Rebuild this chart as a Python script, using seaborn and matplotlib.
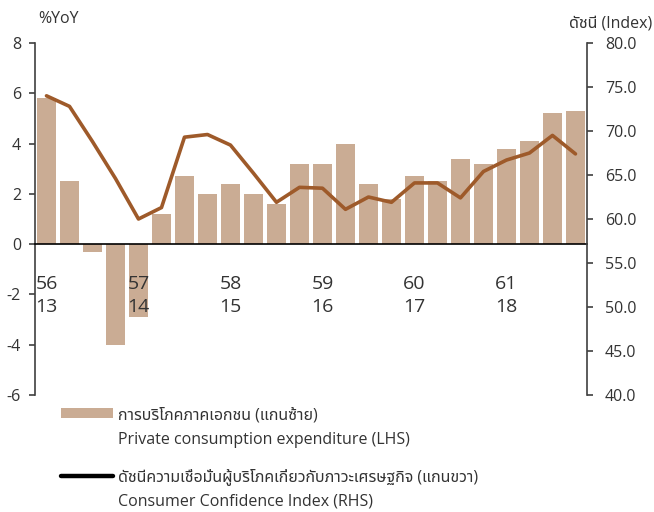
import matplotlib
matplotlib.use("Agg")
import matplotlib.pyplot as plt
from matplotlib.patches import Patch
from matplotlib.lines import Line2D
import seaborn as sns
import pandas as pd

# ข้อมูลรายไตรมาส 2556-2561 (2013-2018)
quarters = list(range(24))
pce = [5.8, 2.5, -0.3, -4.0, -2.9, 1.2, 2.7, 2.0, 2.4, 2.0, 1.6, 3.2,
       3.2, 4.0, 2.4, 1.8, 2.7, 2.5, 3.4, 3.2, 3.8, 4.1, 5.2, 5.3]
cci = [74.0, 72.8, 68.8, 64.6, 60.0, 61.3, 69.3, 69.6, 68.4, 65.2, 61.9, 63.6,
       63.5, 61.1, 62.5, 61.9, 64.1, 64.1, 62.4, 65.4, 66.7, 67.5, 69.5, 67.4]
year_pos = [0, 4, 8, 12, 16, 20]
year_labels = ["56\n13", "57\n14", "58\n15", "59\n16", "60\n17", "61\n18"]

df = pd.DataFrame({"q": quarters, "pce": pce, "cci": cci})

sns.set_style("white")
plt.rcParams["font.family"] = ["Open Sans", "Noto Sans Thai"]
plt.rcParams["axes.unicode_minus"] = False
txt_color = "#333333"
bar_color = "#CAAC94"
line_color = "#9E5A2A"

fig = plt.figure(figsize=(6.54, 5.12), dpi=100)
ax = fig.add_axes([0.0535, 0.2285, 0.844, 0.6875])

sns.barplot(data=df, x="q", y="pce", color=bar_color, saturation=1,
            width=0.8, linewidth=0, ax=ax, zorder=2)
ax.set_axisbelow(False)
ax.set_xlim(-0.5, 23.5)
ax.set_ylim(-6, 8)
ax.set_yticks(range(-6, 9, 2))
ax.set_xlabel("")
ax.set_ylabel("")

for s in ["top", "right"]:
    ax.spines[s].set_visible(False)
ax.spines["bottom"].set_position(("data", 0))
ax.spines["bottom"].set_color("black")
ax.spines["bottom"].set_linewidth(1.2)
ax.spines["bottom"].set_zorder(3)
ax.spines["left"].set_color("#404040")
ax.spines["left"].set_linewidth(1.2)

ax.set_xticks(year_pos)
ax.set_xticklabels(year_labels, fontsize=14, color=txt_color, linespacing=1.4)
ax.set_xticks([i + 0.5 for i in range(23)], minor=True)
ax.tick_params(axis="x", which="major", length=0, pad=22)
ax.tick_params(axis="x", which="minor", direction="out", length=4.5,
               width=1.2, color="black")
ax.tick_params(axis="y", direction="out", length=4, width=1.2, color="#404040",
               labelsize=11.5, labelcolor=txt_color, pad=6)

ax2 = ax.twinx()
sns.lineplot(data=df, x="q", y="cci", color=line_color, linewidth=2.6, ax=ax2,
             zorder=4)
ax2.set_ylim(40, 80)
ax2.set_yticks(range(40, 81, 5))
ax2.set_yticklabels([f"{v:.1f}" for v in range(40, 81, 5)])
ax2.set_xlim(-0.5, 23.5)
ax2.set_ylabel("")
for s in ["top", "left", "bottom"]:
    ax2.spines[s].set_visible(False)
ax2.spines["right"].set_color("#404040")
ax2.spines["right"].set_linewidth(1.2)
ax2.tick_params(axis="y", direction="out", length=4, width=1.2, color="#404040",
                labelsize=11.5, labelcolor=txt_color, pad=9)

fig.text(0.058, 0.962, "%YoY", fontsize=11.5, color=txt_color, va="center")
fig.text(0.997, 0.955, "ดัชนี (Index)", fontsize=11.5, color=txt_color,
         va="center", ha="right")

# legend: two blocks, handle beside the Thai line, English line below
blank = Patch(facecolor="none", edgecolor="none")
legend_kw = dict(loc="upper left", frameon=False, fontsize=11.5,
                 labelcolor=txt_color, handlelength=3.25, handleheight=0.6,
                 handletextpad=0.3, labelspacing=0.55, borderaxespad=0,
                 borderpad=0)
fig.legend([Patch(facecolor=bar_color, edgecolor="none"), blank],
           ["การบริโภคภาคเอกชน (แกนซ้าย)", "Private consumption expenditure (LHS)"],
           bbox_to_anchor=(0.093, 0.205), **legend_kw)
fig.legend([Line2D([0], [0], color="black", linewidth=3.2), blank],
           ["ดัชนีความเชื่อมั่นผู้บริโภคเกี่ยวกับภาวะเศรษฐกิจ (แกนขวา)",
            "Consumer Confidence Index (RHS)"],
           bbox_to_anchor=(0.093, 0.086), **legend_kw)

fig.savefig("out.png", dpi=100)
